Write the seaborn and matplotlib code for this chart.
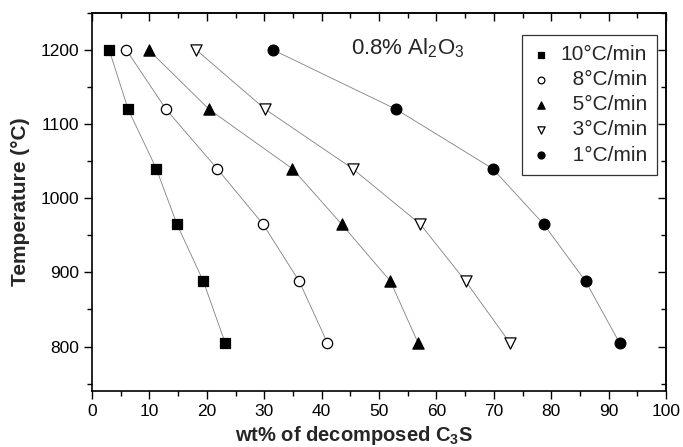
import numpy as np
import pandas as pd
import matplotlib
matplotlib.use("Agg")
import matplotlib.pyplot as plt
import seaborn as sns
from matplotlib.ticker import MultipleLocator, NullFormatter

temps = [1200, 1120, 1040, 965, 888, 805]
rate_labels = ["10°C/min", "8°C/min", "5°C/min", "3°C/min", "1°C/min"]
wt_10 = [3.0, 6.3, 11.2, 14.8, 19.4, 23.2]
wt_8 = [6.0, 12.9, 21.8, 29.8, 36.1, 41.0]
wt_5 = [9.9, 20.4, 34.9, 43.5, 52.0, 56.8]
wt_3 = [18.2, 30.2, 45.4, 57.2, 65.1, 72.8]
wt_1 = [31.6, 53.0, 69.8, 78.7, 86.0, 91.9]
legend_labels = ["10°C/min", "\u20078°C/min", "\u20075°C/min", "\u20073°C/min", "\u20071°C/min"]

series = [wt_10, wt_8, wt_5, wt_3, wt_1]
rows = []
for lab, vals in zip(rate_labels, series):
    for t, v in zip(temps, vals):
        rows.append({"rate": lab, "wt": v, "T": t})
df = pd.DataFrame(rows)

sns.set_theme(style="ticks")
plt.rcParams["font.family"] = ["Liberation Sans", "DejaVu Sans"]
plt.rcParams["mathtext.fontset"] = "custom"
plt.rcParams["mathtext.rm"] = "Liberation Sans"
plt.rcParams["mathtext.it"] = "Liberation Sans"
plt.rcParams["mathtext.bf"] = "Liberation Sans:bold"

fig = plt.figure(figsize=(6.83, 4.47), dpi=100)
ax = fig.add_axes([92/683, 1-391/447, (666-92)/683, (391-13)/447])

styles = [
    dict(marker="s", facecolor="black", s=52),
    dict(marker="o", facecolor="white", s=55),
    dict(marker="^", facecolor="black", s=65),
    dict(marker="v", facecolor="white", s=65),
    dict(marker="o", facecolor="black", s=60),
]

for lab in rate_labels:
    sub = df[df["rate"] == lab]
    sns.lineplot(data=sub, x="wt", y="T", ax=ax, color="#808080", lw=0.6,
                 sort=False, estimator=None, legend=False, zorder=1)

handles = []
for lab, leg, st in zip(rate_labels, legend_labels, styles):
    sub = df[df["rate"] == lab]
    h = ax.scatter(sub["wt"], sub["T"], marker=st["marker"], s=st["s"],
                   facecolor=st["facecolor"], edgecolor="black", linewidth=0.9,
                   zorder=3, label=leg)
    handles.append(h)

ax.set_xlim(0, 100)
ax.set_ylim(740, 1250)
ax.xaxis.set_major_locator(MultipleLocator(10))
ax.xaxis.set_minor_locator(MultipleLocator(5))
ax.yaxis.set_major_locator(MultipleLocator(100))
ax.yaxis.set_minor_locator(MultipleLocator(50))
ax.tick_params(which="both", direction="out", top=False, right=False,
               labelsize=12.5, width=1.0, colors="black", pad=3)
ax.tick_params(which="major", length=6)
ax.tick_params(which="minor", length=3.5)
for sp in ax.spines.values():
    sp.set_linewidth(1.2)
    sp.set_color("black")

# inward ticks on top and right
secx = ax.secondary_xaxis("top")
secx.xaxis.set_major_locator(MultipleLocator(10))
secx.xaxis.set_minor_locator(MultipleLocator(5))
secx.xaxis.set_major_formatter(NullFormatter())
secx.tick_params(which="both", direction="in", width=1.0, colors="black")
secx.tick_params(which="major", length=6)
secx.tick_params(which="minor", length=3.5)
secx.spines["top"].set_linewidth(1.2)
secy = ax.secondary_yaxis("right")
secy.yaxis.set_major_locator(MultipleLocator(100))
secy.yaxis.set_minor_locator(MultipleLocator(50))
secy.yaxis.set_major_formatter(NullFormatter())
secy.tick_params(which="both", direction="in", width=1.0, colors="black")
secy.tick_params(which="major", length=6)
secy.tick_params(which="minor", length=3.5)
secy.spines["right"].set_linewidth(1.2)

ax.set_xlabel("wt% of decomposed C$_\\mathbf{3}$S", fontsize=14.5, fontweight="bold")
ax.xaxis.set_label_coords(0.456, -0.088)
ax.set_ylabel("Temperature (°C)", fontsize=15, fontweight="bold", labelpad=8)

ax.text(45.2, 1203, "0.8% Al$_2$O$_3$", fontsize=16, ha="left", va="center")

leg = ax.legend(handles=handles, loc="upper right", bbox_to_anchor=(0.985, 0.942),
                frameon=True, fancybox=False, edgecolor="black", fontsize=15,
                handlelength=0.8, handletextpad=0.55, borderpad=0.5, labelspacing=0.29,
                borderaxespad=0, markerscale=0.65, scatterpoints=1)
leg.get_frame().set_linewidth(0.9)

fig.savefig("out.png", dpi=100)
